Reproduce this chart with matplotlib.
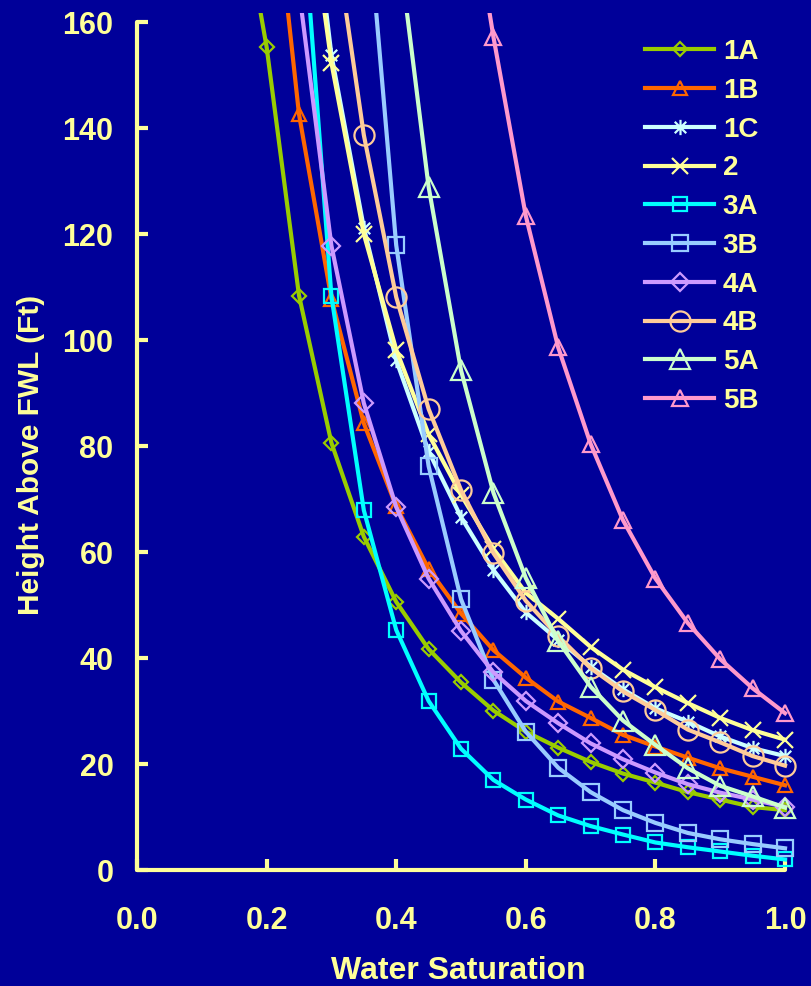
import matplotlib
matplotlib.use('Agg')
import matplotlib.pyplot as plt
import numpy as np
from matplotlib.path import Path

nan = np.nan

# water saturation grid (points above 160 ft are clipped by the axes)
sw = [0.15, 0.20, 0.25, 0.30, 0.35, 0.40, 0.45, 0.50, 0.55, 0.60,
      0.65, 0.70, 0.75, 0.80, 0.85, 0.90, 0.95, 1.00]

h_1a = [190, 155.3, 108.4, 80.6, 62.9, 50.6, 41.7, 35.4, 30.1, 26.1,
        23.1, 20.4, 18.2, 16.5, 14.7, 13.3, 11.9, 11.3]
h_1b = [nan, 199, 142.6, 107.8, 84.3, 68.6, 56.8, 48.4, 41.5, 36.3,
        31.8, 28.7, 25.5, 23.3, 21.2, 19.2, 17.6, 16.0]
h_1c = [nan, nan, 205, 153.8, 121.2, 96.2, 79.0, 66.6, 56.6, 48.6,
        43.4, 38.4, 34.1, 30.5, 28.0, 25.2, 23.0, 21.5]
h_2 = [nan, nan, 197, 152.3, 120.0, 98.2, 82.2, 70.8, 60.6, 52.3,
       47.4, 42.1, 37.8, 34.5, 31.5, 28.7, 26.4, 24.6]
h_3a = [nan, nan, 190, 108.3, 67.9, 45.3, 31.9, 22.9, 17.0, 13.3,
        10.3, 8.3, 6.7, 5.2, 4.3, 3.5, 2.7, 2.0]
h_3b = [nan, nan, nan, nan, 189, 117.9, 76.2, 51.1, 35.9, 26.1,
        19.3, 14.7, 11.3, 8.9, 7.0, 5.8, 4.9, 4.1]
h_4a = [nan, nan, 166, 117.8, 88.1, 68.5, 55.0, 45.1, 37.3, 31.9,
        27.7, 23.9, 20.9, 18.4, 16.2, 14.6, 13.3, 11.9]
h_4b = [nan, nan, nan, 181, 138.7, 108.1, 87.0, 71.7, 59.8, 50.8,
        44.1, 38.1, 33.7, 30.2, 26.5, 24.1, 21.5, 19.7]
h_5a = [nan, nan, nan, nan, nan, 178, 128.9, 94.3, 71.2, 55.1,
        43.2, 34.6, 28.2, 23.6, 19.2, 15.9, 13.9, 11.8]
h_5b = [nan, nan, nan, nan, nan, nan, nan, 195, 157.2, 123.4,
        98.6, 80.4, 66.0, 55.0, 46.6, 39.8, 34.3, 29.6]

labels = ['1A', '1B', '1C', '2', '3A', '3B', '4A', '4B', '5A', '5B']
colors = ['#99CC00', '#FF6600', '#CCFFFF', '#FFFF99', '#00FFFF',
          '#99CCFF', '#CC99FF', '#FFCC99', '#CCFFCC', '#FF99CC']

bg = '#000099'
fg = '#FFFF99'

# six spoke asterisk like the Excel marker
star = Path([(0, -1), (0, 1), (-0.75, -0.75), (0.75, 0.75), (-0.75, 0.75), (0.75, -0.75)],
            [Path.MOVETO, Path.LINETO, Path.MOVETO, Path.LINETO, Path.MOVETO, Path.LINETO])

markers = ['D', '^', star, 'x', 's', 's', 'D', 'o', '^', '^']
msizes = [7.5, 10, 11, 12, 10.5, 11, 9.5, 14.5, 14, 11]

plt.rcParams['font.family'] = ['Liberation Sans', 'DejaVu Sans']
plt.rcParams['font.weight'] = 'bold'

fig = plt.figure(figsize=(8.11, 9.86), dpi=100, facecolor=bg)
ax = fig.add_axes([137 / 811, 108 / 986, 661 / 811, 865.5 / 986])
ax.set_facecolor(bg)

series = [h_1a, h_1b, h_1c, h_2, h_3a, h_3b, h_4a, h_4b, h_5a, h_5b]
for h, lab, c, m, ms in zip(series, labels, colors, markers, msizes):
    ax.plot(sw, h, color=c, lw=3, marker=m, ms=ms, mfc='none', mec=c, mew=1.6,
            label=lab)

ax.set_xlim(0, 1.02)
ax.set_ylim(-1.5, 161.8)
ax.spines['left'].set_bounds(0, 160)
ax.spines['bottom'].set_bounds(0, 1.0)
ax.spines['bottom'].set_position(('data', 0))
for s in ['top', 'right']:
    ax.spines[s].set_visible(False)
for s in ['left', 'bottom']:
    ax.spines[s].set_color(fg)
    ax.spines[s].set_linewidth(3)
    ax.spines[s].set_capstyle('round')

ax.set_xticks(np.arange(0, 1.01, 0.2))
ax.set_yticks(np.arange(0, 161, 20))
ax.set_xticklabels(['%.1f' % v for v in np.arange(0, 1.01, 0.2)])
ax.tick_params(direction='in', length=8, width=3, color=fg, labelcolor=fg,
               labelsize=22)
ax.tick_params(axis='x', pad=26)
ax.tick_params(axis='y', pad=17)
for t in ax.get_xticklabels() + ax.get_yticklabels():
    t.set_fontweight('bold')

ax.set_xlabel('Water Saturation', color=fg, fontsize=23, fontweight='bold')
ax.set_ylabel('Height Above FWL (Ft)', color=fg, fontsize=21.5, fontweight='bold')
ax.xaxis.set_label_coords(0.5 * 785 / 798 - 0.006, -(971 - 878) / 865.5)
ax.xaxis.label.set_va('center')
ax.yaxis.set_label_coords(-(137 - 31) / 661, (878 - 455) / 865.5)
ax.yaxis.label.set_va('center')

leg = ax.legend(loc='upper left', bbox_to_anchor=(645 / 811, 1 - 39 / 986),
                bbox_transform=fig.transFigure, frameon=False, fontsize=20,
                handlelength=2.5, handletextpad=0.3, labelspacing=0.46,
                borderpad=0, borderaxespad=0)
for t in leg.get_texts():
    t.set_color(fg)
    t.set_fontweight('bold')

plt.savefig('out.png', dpi=100, facecolor=bg)
plt.close()
